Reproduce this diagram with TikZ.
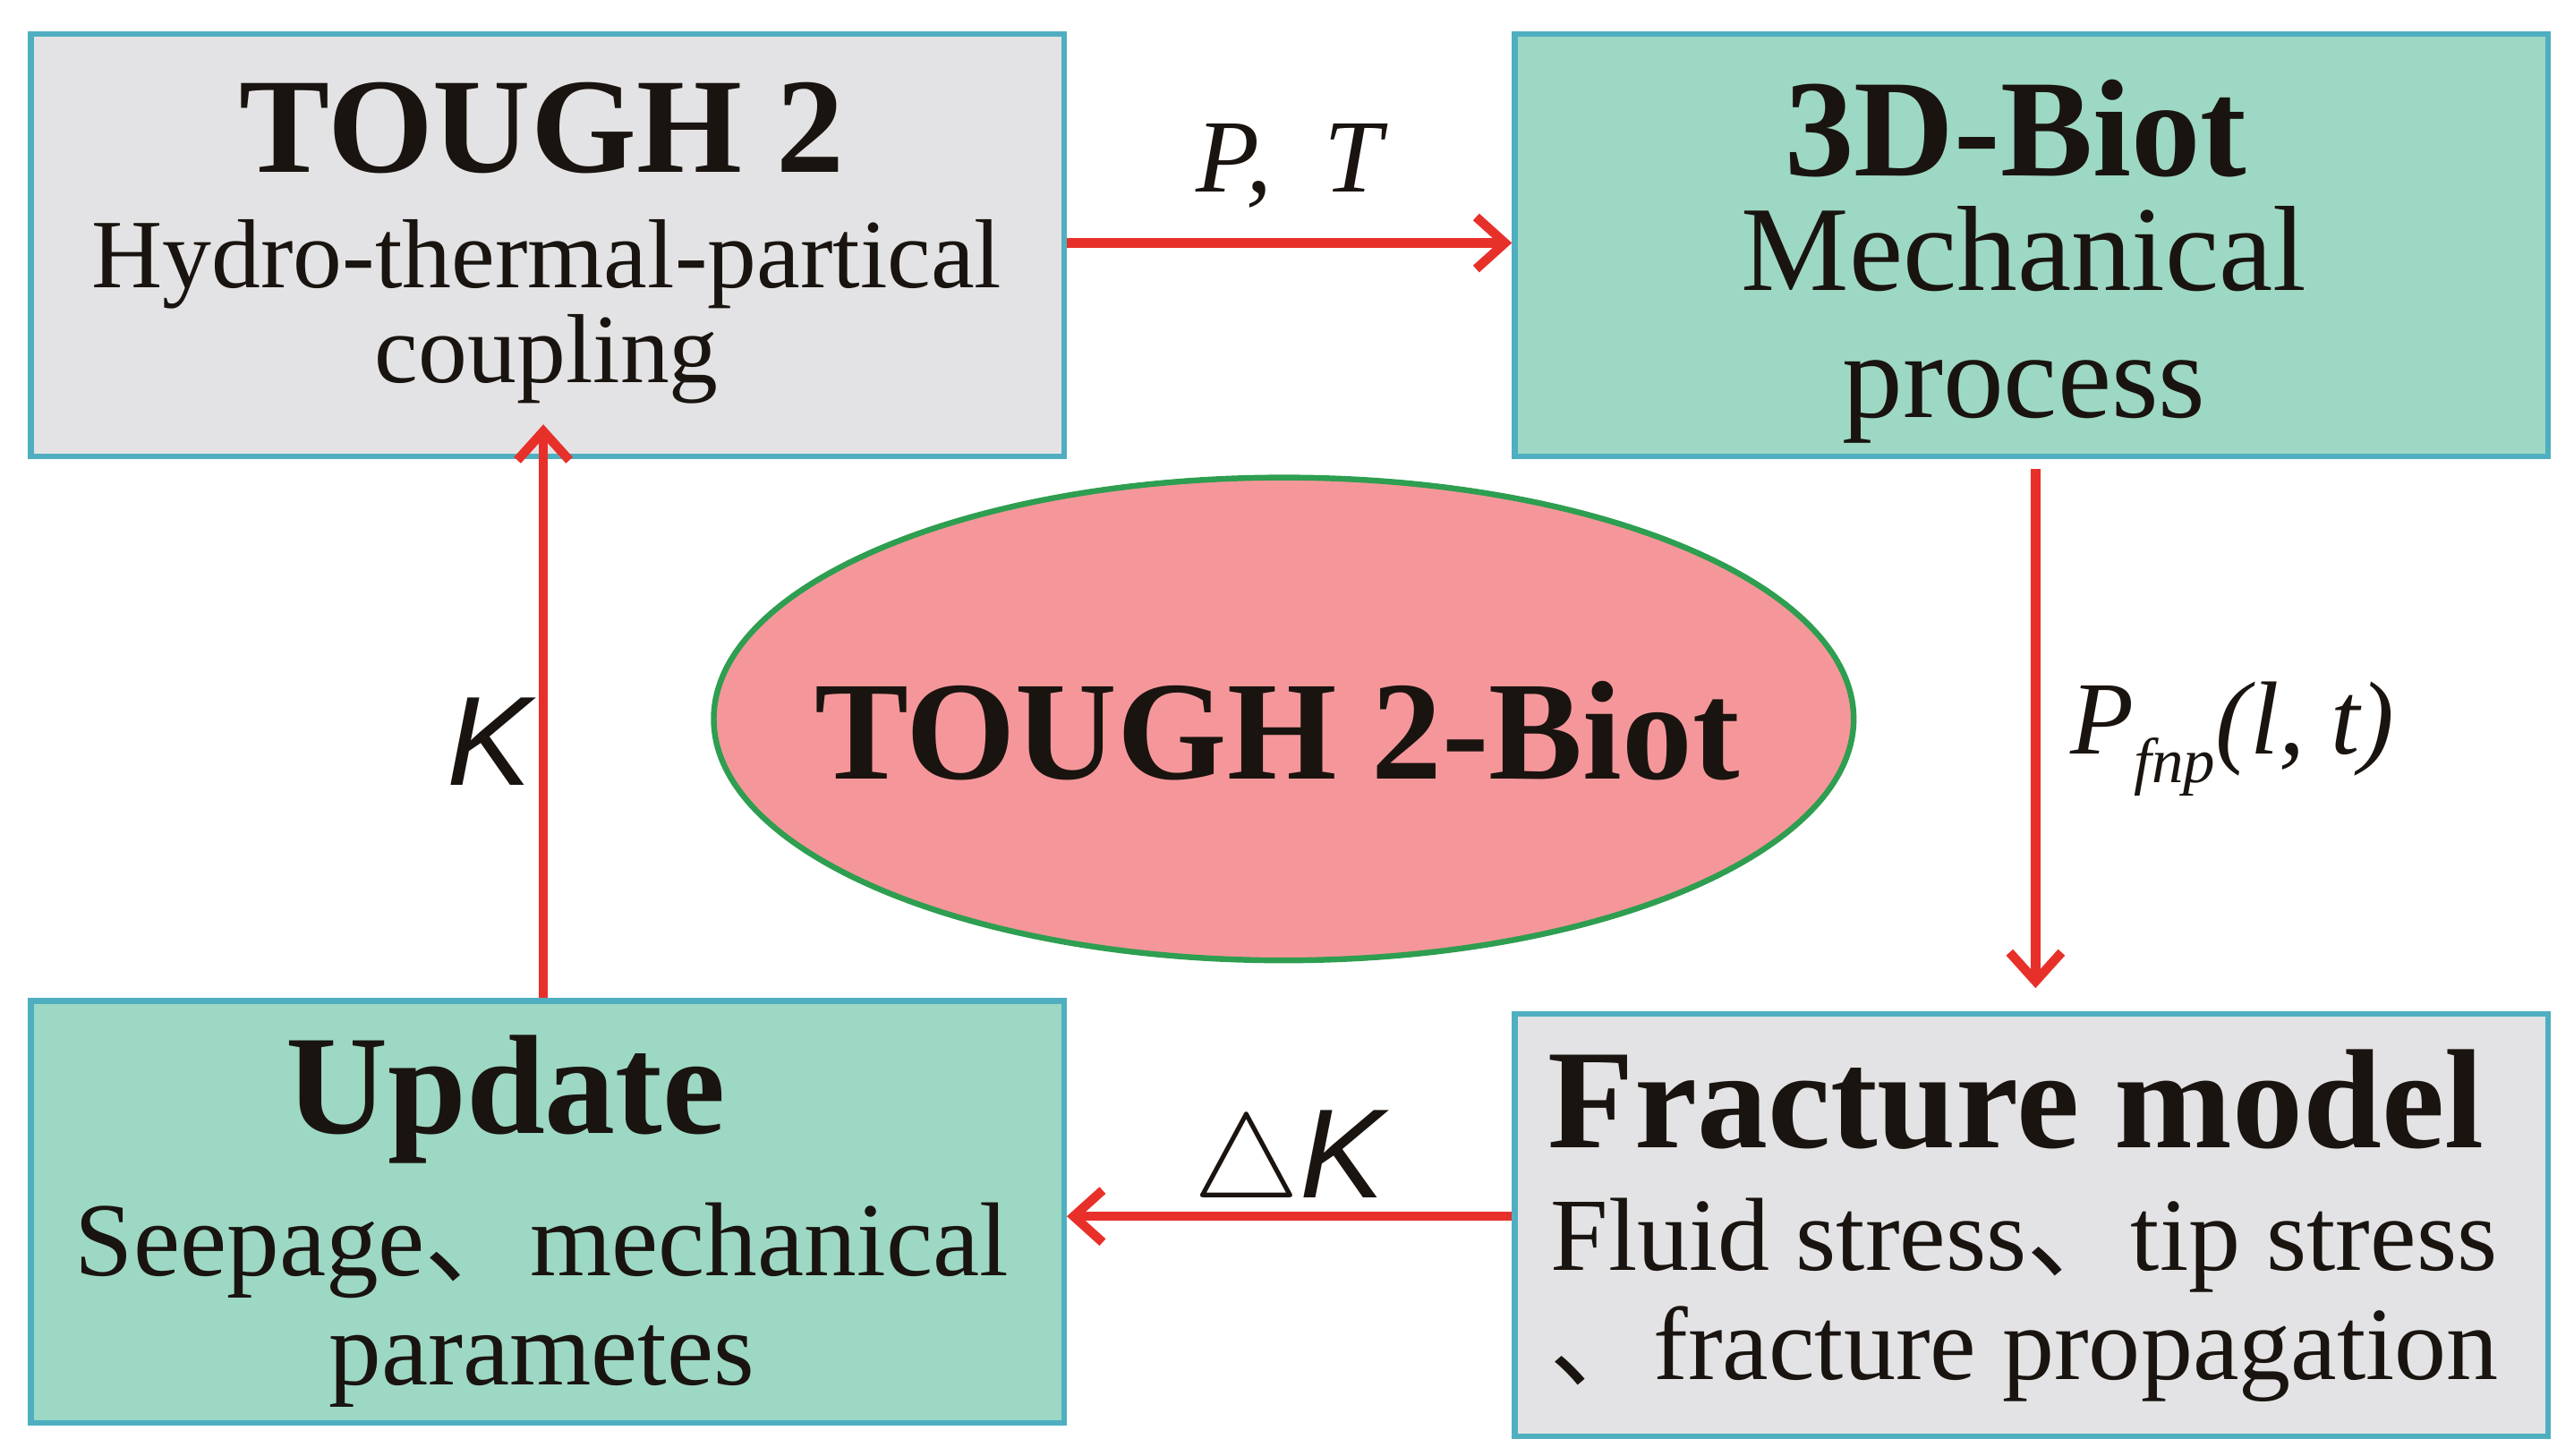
\documentclass[tikz,border=0pt]{standalone}
\usepackage{fontspec}
\setmainfont{Liberation Serif}
\newfontfamily\lsans{Liberation Sans}
\newfontfamily\cjk{Noto Sans CJK SC}
\usetikzlibrary{shapes.geometric,arrows.meta}
\definecolor{gbox}{HTML}{E3E3E5}
\definecolor{tbox}{HTML}{9DD8C4}
\definecolor{bord}{HTML}{4FAFC0}
\definecolor{ellf}{HTML}{F5979A}
\definecolor{elld}{HTML}{2E9E50}
\definecolor{arr}{HTML}{E8302A}
\definecolor{txt}{HTML}{1A1410}
\begin{document}
\begin{tikzpicture}[x=0.01cm,y=-0.01cm,
  boxs/.style={draw=bord,line width=1pt,minimum width=6.29cm,minimum height=2.57cm,anchor=north west,inner sep=0pt},
  ar/.style={draw=arr,line width=1.6pt,-{Straight Barb[length=5pt,width=9pt]}},
  lab/.style={text=txt}]
\useasboundingbox (0,0) rectangle (1568,886.5);
\node[boxs,fill=gbox] (a) at (17,19) {};
\node[boxs,fill=tbox] (b) at (921,19) {};
\node[boxs,fill=tbox] (c) at (17,608) {};
\node[boxs,fill=gbox] (d) at (921,616) {};
\node[draw=elld,line width=1pt,fill=ellf,ellipse,minimum width=6.94cm,minimum height=2.94cm,inner sep=0pt] (e) at (782,438) {};
\node[lab,font=\fontsize{23.5}{28}\selectfont\bfseries] at (330,78) {TOUGH 2};
\node[lab,align=center,font=\fontsize{17}{16.5}\selectfont] at (333,190) {Hydro-thermal-partical\\coupling};
\node[lab,font=\fontsize{24}{28}\selectfont\bfseries] at (1228,78) {3D-Biot};
\node[lab,align=center,font=\fontsize{21}{22}\selectfont] at (1233,198) {Mechanical\\process};
\node[lab,font=\fontsize{24.4}{28}\selectfont\bfseries] at (778,445) {TOUGH 2-Biot};
\node[lab,font=\fontsize{24.5}{28}\selectfont\bfseries] at (308,670) {Update};
\node[lab,align=center,font=\fontsize{18.2}{19}\selectfont] at (330,795) {Seepage{\cjk 、}mechanical\\parametes};
\node[lab,font=\fontsize{24.5}{28}\selectfont\bfseries] at (1228,670) {Fracture model};
\node[lab,align=center,font=\fontsize{18}{19}\selectfont] at (1233,792) {Fluid stress{\cjk 、}tip stress\\{\cjk 、}fracture propagation};
\draw[ar] (a.east |- 0,148) -- (b.west |- 0,148) node[midway,above=2pt,lab] {\fontsize{18}{20}\selectfont\itshape P,\ \ T};
\draw[ar] (b.south -| 1240,0) ++(0,6) -- (1240,602) coordinate (dn);
\node[lab] at (1360,450) {\fontsize{18}{20}\selectfont\itshape P\raisebox{-5pt}{\fontsize{11}{12}\selectfont fnp}(l, t)};
\draw[ar] (d.west |- 0,741) -- (c.east |- 0,741) node[midway,above=-5pt,lab] {\fontsize{22}{24}\selectfont\lsans$\triangle$\itshape K};
\draw[ar] (c.north -| 331,0) -- ([yshift=6]a.south -| 331,0);
\node[lab] at (298,452) {\fontsize{22}{24}\selectfont\lsans\itshape K};
\end{tikzpicture}
\end{document}
